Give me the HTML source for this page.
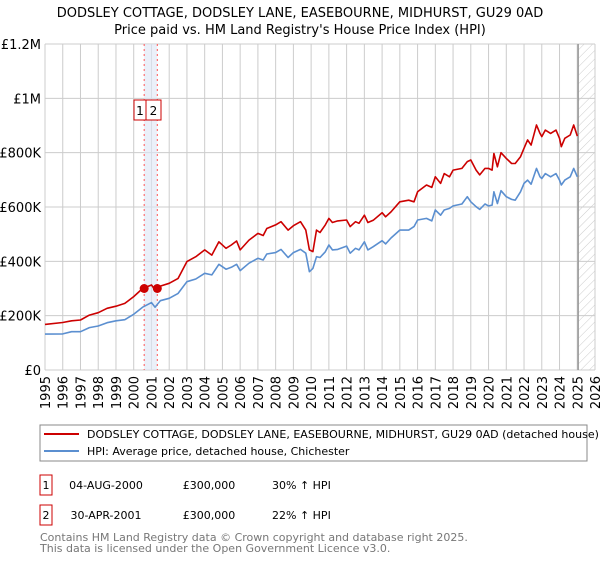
<!DOCTYPE html>
<html><head><meta charset="utf-8"><style>
body{margin:0;background:#fff;font-family:"DejaVu Sans","Liberation Sans",sans-serif;}
svg text{font-family:"DejaVu Sans","Liberation Sans",sans-serif;}
</style></head><body>
<svg id="chart" width="600" height="560" xmlns="http://www.w3.org/2000/svg">
<defs><pattern id="hatch" patternUnits="userSpaceOnUse" width="6" height="6" patternTransform="rotate(45)"><line x1="0" y1="0" x2="0" y2="6" stroke="#ccc" stroke-width="1"/></pattern></defs>
<text x="300" y="17" font-size="13" text-anchor="middle">DODSLEY COTTAGE, DODSLEY LANE, EASEBOURNE, MIDHURST, GU29 0AD</text>
<text x="300" y="34" font-size="13" text-anchor="middle">Price paid vs. HM Land Registry's House Price Index (HPI)</text>
<g id="grid"></g>
<g id="marks"></g>
<g id="axes"></g>
<rect x="40" y="425" width="547" height="36" fill="#fff" stroke="#888"/>
<line x1="44" y1="434" x2="79" y2="434" stroke="#cc0000" stroke-width="2"/>
<text x="87" y="438" font-size="11">DODSLEY COTTAGE, DODSLEY LANE, EASEBOURNE, MIDHURST, GU29 0AD (detached house)</text>
<line x1="44" y1="451" x2="79" y2="451" stroke="#5b8fd0" stroke-width="2"/>
<text x="87" y="455" font-size="11">HPI: Average price, detached house, Chichester</text>
<rect x="40" y="475" width="12" height="20" fill="#fff" stroke="#cc0000"/>
<text x="46" y="489" font-size="11" text-anchor="middle">1</text>
<text x="106" y="489" font-size="11" text-anchor="middle">04-AUG-2000</text>
<text x="209" y="489" font-size="11" text-anchor="middle">£300,000</text>
<text x="272" y="489" font-size="11">30% ↑ HPI</text>
<rect x="40" y="505" width="12" height="20" fill="#fff" stroke="#cc0000"/>
<text x="46" y="519" font-size="11" text-anchor="middle">2</text>
<text x="106" y="519" font-size="11" text-anchor="middle">30-APR-2001</text>
<text x="209" y="519" font-size="11" text-anchor="middle">£300,000</text>
<text x="272" y="519" font-size="11">22% ↑ HPI</text>
<text x="40" y="541" font-size="11" fill="#777">Contains HM Land Registry data © Crown copyright and database right 2025.</text>
<text x="40" y="552" font-size="11" fill="#777">This data is licensed under the Open Government Licence v3.0.</text>
</svg>
<script>
const yTicks=[0,200,400,600,800,1000,1200];
const yTickLabels=["£0","£200K","£400K","£600K","£800K","£1M","£1.2M"];
const xYears=[1995,1996,1997,1998,1999,2000,2001,2002,2003,2004,2005,2006,2007,2008,2009,2010,2011,2012,2013,2014,2015,2016,2017,2018,2019,2020,2021,2022,2023,2024,2025,2026];
const propT=[1995,1996,1996.5,1997,1997.5,1998,1998.5,1999,1999.5,2000,2000.5,2001,2001.2,2001.5,2002,2002.5,2003,2003.5,2004,2004.4,2004.8,2005.2,2005.5,2005.8,2006,2006.5,2007,2007.3,2007.5,2008,2008.3,2008.7,2009,2009.4,2009.7,2009.9,2010.1,2010.3,2010.5,2010.8,2011,2011.2,2011.5,2012,2012.2,2012.5,2012.7,2013,2013.2,2013.5,2014,2014.2,2014.5,2015,2015.5,2015.8,2016,2016.5,2016.8,2017,2017.3,2017.5,2017.8,2018,2018.5,2018.8,2019,2019.3,2019.5,2019.8,2020,2020.2,2020.3,2020.5,2020.7,2021,2021.3,2021.5,2021.8,2022,2022.2,2022.4,2022.7,2022.9,2023,2023.2,2023.5,2023.8,2024,2024.1,2024.3,2024.6,2024.8,2025];
const propV=[168,175,181,184,202,211,227,235,245,270,300,313,295,309,319,337,399,417,442,423,472,448,460,475,442,478,503,495,521,534,546,515,531,546,515,442,436,515,506,534,558,543,549,552,528,546,540,570,543,551,579,564,582,619,625,619,656,681,672,711,687,723,711,736,742,767,773,736,718,742,742,736,797,748,800,779,760,760,785,816,847,828,902,871,859,883,871,883,853,822,853,865,902,861];
const hpiV=[132,133,141,141,156,162,174,181,185,205,231,248,231,255,264,282,325,335,356,350,389,371,378,389,366,393,411,405,427,432,444,414,432,444,430,362,374,417,414,435,460,442,444,456,430,448,442,472,442,454,476,464,486,515,515,528,552,558,549,589,570,589,595,604,611,638,619,601,591,611,604,607,656,613,660,638,628,625,656,687,699,684,742,711,705,723,711,723,699,681,699,711,742,711];
const saleT=[2000.59,2001.33];
const saleV=[300,300];
const saleLabels=["1","2"];
const NS="http://www.w3.org/2000/svg";
const X0=45,X1=595,Y0=370,Y1=44;
const xs=t=>X0+(t-1995)/(2026-1995)*(X1-X0);
const ys=v=>Y0-v/1200*(Y0-Y1);
function mk(tag,attrs,parent){const e=document.createElementNS(NS,tag);for(const k in attrs)e.setAttribute(k,attrs[k]);parent.appendChild(e);return e;}
const grid=document.getElementById('grid'),marks=document.getElementById('marks'),axes=document.getElementById('axes');
mk('rect',{x:X0,y:Y1,width:X1-X0,height:Y0-Y1,fill:'#fff'},grid);
yTicks.forEach((v,i)=>{
 const l=mk('line',{x1:X0,x2:X1,y1:ys(v),y2:ys(v),stroke:'#ccc'},grid);
 
 
 const t=mk('text',{x:X0-4,y:ys(v)+5,'font-size':13,'text-anchor':'end'},axes);
 t.textContent=yTickLabels[i];
 
 
});
xYears.forEach(y=>{
 const l=mk('line',{x1:xs(y),x2:xs(y),y1:Y1,y2:Y0,stroke:'#ccc'},grid);
 
 
 const t=mk('text',{x:0,y:0,'font-size':13,'text-anchor':'end',transform:`translate(${xs(y)+5},${Y0+6}) rotate(-90)`},axes);
 t.textContent=y;
 
 
});
const endT=2025.05;
const h=mk('rect',{x:xs(endT),y:Y1,width:X1-xs(endT),height:Y0-Y1,fill:'url(#hatch)'},marks);


const el=mk('line',{x1:xs(endT),x2:xs(endT),y1:Y1,y2:Y0,stroke:'#999','stroke-width':1.5},marks);


const sh=mk('rect',{x:xs(saleT[0]),y:Y1,width:xs(saleT[1])-xs(saleT[0]),height:Y0-Y1,fill:'#dde6f5',opacity:0.6},marks);


saleT.forEach((t,i)=>{
 const l=mk('line',{x1:xs(t),x2:xs(t),y1:Y1,y2:Y0,stroke:'#ff5555','stroke-dasharray':'2,3'},marks);
 
 
});
function path(vals,color,name){
 const d=propT.map((t,i)=>(i?'L':'M')+xs(t).toFixed(1)+','+ys(vals[i]).toFixed(1)).join('');
 const p=mk('path',{d:d,fill:'none',stroke:color,'stroke-width':1.6,'stroke-linejoin':'round'},marks);
 
 
}
path(hpiV,'#5b8fd0','hpi-line');
path(propV,'#cc0000','property-line');
saleT.forEach((t,i)=>{
 const c=mk('circle',{cx:xs(t),cy:ys(saleV[i]),r:4.5,fill:'#cc0000'},marks);
 
 
});
const bx=[134,146],bw=[12,15];
saleLabels.forEach((s,i)=>{
 const r=mk('rect',{x:bx[i],y:100,width:bw[i],height:20,fill:'#fff',stroke:'#cc0000'},marks);
 
 
 const t=mk('text',{x:bx[i]+bw[i]/2,y:115,'font-size':12,'text-anchor':'middle'},marks);
 t.textContent=s;
 
 
});
</script>
</body></html>
